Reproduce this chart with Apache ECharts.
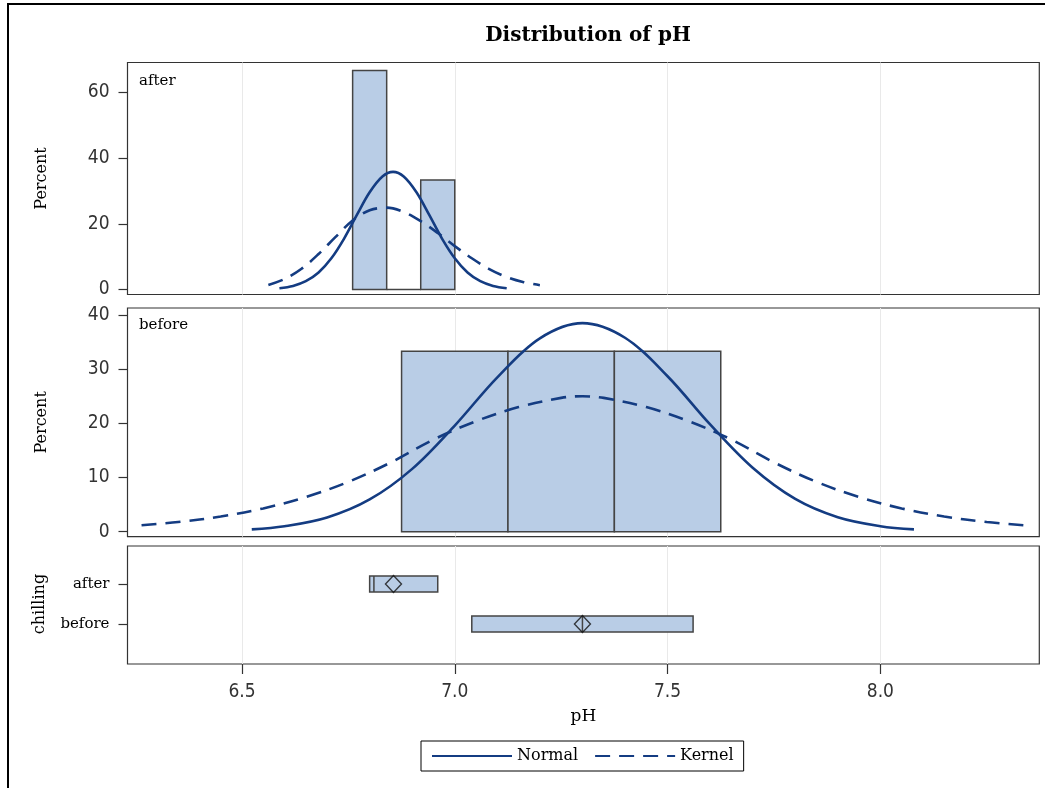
<!DOCTYPE html>
<html><head><meta charset="utf-8">
<script src="https://cdn.jsdelivr.net/npm/echarts@6/dist/echarts.min.js"></script>
<style>html,body{margin:0;padding:0;background:#fff}#c{width:1045px;height:788px}</style>
</head><body><div id="c"></div>
<script>
// ---------- data ----------
const chartTitle = 'Distribution of pH';
const groups = ['after', 'before'];
const xTicks = [6.5, 7.0, 7.5, 8.0];
const afterTicks = [0, 20, 40, 60];
const beforeTicks = [0, 10, 20, 30, 40];
// histogram bins: [lower, upper, percent]
const afterBins = [[6.76, 6.84, 66.67], [6.84, 6.92, 0], [6.92, 7.00, 33.33]];
const beforeBins = [[6.875, 7.125, 33.33], [7.125, 7.375, 33.33], [7.375, 7.625, 33.33]];
// fitted curves [pH, percent]
const afterNormal = [[6.588,0.40],[6.62,1.10],[6.65,2.52],[6.68,5.18],[6.71,9.49],[6.74,15.5],[6.77,22.7],[6.80,29.6],[6.83,34.4],[6.855,35.8],[6.88,34.4],[6.91,29.6],[6.94,22.7],[6.97,15.5],[7.00,9.5],[7.03,5.18],[7.06,2.52],[7.09,1.10],[7.122,0.40]];
const afterKernel = [[6.562,1.4],[6.60,3.2],[6.64,6.3],[6.68,10.8],[6.72,16.0],[6.76,21.0],[6.80,24.1],[6.84,24.9],[6.88,23.6],[6.92,20.8],[6.96,17.2],[7.00,13.2],[7.04,9.5],[7.08,6.3],[7.12,3.9],[7.16,2.3],[7.20,1.3]];
const beforeNormal = [[6.523,0.43],[6.60,1.0],[6.70,2.62],[6.80,5.95],[6.90,11.6],[7.00,19.6],[7.10,28.5],[7.20,35.7],[7.30,38.5],[7.40,35.8],[7.50,28.7],[7.60,19.8],[7.70,11.8],[7.80,6.05],[7.90,2.67],[8.00,1.02],[8.079,0.43]];
const beforeKernel = [[6.264,1.2],[6.35,1.8],[6.45,2.8],[6.55,4.3],[6.65,6.4],[6.75,9.2],[6.85,12.8],[6.95,17.0],[7.05,20.4],[7.15,23.0],[7.25,24.7],[7.30,25.0],[7.35,24.7],[7.45,23.0],[7.55,20.4],[7.65,17.0],[7.75,12.8],[7.85,9.2],[7.95,6.4],[8.05,4.3],[8.15,2.8],[8.25,1.8],[8.336,1.2]];
// box stats [min, Q1, median, Q3, max] per group, and means
const boxStats = [[6.80, 6.80, 6.81, 6.96, 6.96], [7.04, 7.04, 7.30, 7.56, 7.56]];
const groupMeans = [6.856, 7.30];

// ---------- styles ----------
const SERIF = "'DejaVu Serif', 'Liberation Serif', serif";
const NUM = "'Liberation Sans Narrow', 'DejaVu Sans Condensed', 'Liberation Sans', sans-serif";
const FILL = '#b9cde6';
const EDGE = '#444';
const LINE = '#143c82';
const AX = '#333';
const GRIDC = '#e9e9e9';
const X_MIN = 6.231, X_MAX = 8.3735;
const L = 127.5, W = 911.8;

function binRender(params, api) {
  const p0 = api.coord([api.value(0), 0]);
  const p1 = api.coord([api.value(1), api.value(2)]);
  return {
    type: 'rect',
    shape: { x: p0[0], y: p1[1], width: p1[0] - p0[0], height: p0[1] - p1[1] },
    style: { fill: FILL, stroke: EDGE, lineWidth: 1.5 }
  };
}

function xAxisHidden(gi) {
  return {
    type: 'value', gridIndex: gi, min: X_MIN, max: X_MAX,
    axisLine: { show: false }, axisLabel: { show: false, customValues: xTicks },
    axisTick: { show: false, customValues: xTicks },
    splitLine: { show: true, lineStyle: { color: GRIDC, width: 1 } }
  };
}
function yValueAxis(gi, mn, mx, ticks) {
  return {
    type: 'value', gridIndex: gi, min: mn, max: mx,
    name: 'Percent', nameLocation: 'middle', nameGap: 78, nameRotate: 90,
    nameTextStyle: { fontFamily: SERIF, fontSize: 16, color: '#000' },
    axisLine: { show: false },
    axisTick: { show: true, inside: false, length: 9, customValues: ticks, lineStyle: { color: AX, width: 1.2 } },
    axisLabel: { customValues: ticks, margin: 18, fontFamily: NUM, fontSize: 19, color: '#333' },
    splitLine: { show: false }
  };
}
function curve(name, data, xi, yi, dashed) {
  return {
    type: 'line', name: name, xAxisIndex: xi, yAxisIndex: yi, data: data,
    smooth: 0.35, showSymbol: false, symbol: 'none', z: 5,
    lineStyle: { color: LINE, width: 2.6, type: dashed ? [15, 9] : 'solid' },
    itemStyle: { color: LINE }
  };
}

const option = {
  animation: false,
  backgroundColor: '#fff',
  title: {
    text: chartTitle, left: 583, top: 21, textAlign: 'center',
    textStyle: { fontFamily: SERIF, fontWeight: 'bold', fontSize: 20, color: '#000' }
  },
  legend: {
    left: 421, top: 741, orient: 'horizontal',
    padding: [7, 10, 7, 10], itemWidth: 80, itemHeight: 12, itemGap: 16,
    borderColor: '#000', borderWidth: 1,
    itemStyle: { opacity: 0 },
    data: ['Normal', 'Kernel'],
    textStyle: { fontFamily: SERIF, fontSize: 16, color: '#000' }
  },
  graphic: [
    { type: 'rect', silent: true, z: -1, shape: { x: 8, y: 4, width: 1200, height: 900 }, style: { fill: 'none', stroke: '#000', lineWidth: 2 } },
    { type: 'text', left: 139, top: 74, z: 10, style: { text: groups[0], font: "15px 'DejaVu Serif', serif", fill: '#000' } },
    { type: 'text', left: 139, top: 318, z: 10, style: { text: groups[1], font: "15px 'DejaVu Serif', serif", fill: '#000' } }
  ],
  grid: [
    { left: L, width: W, top: 62.5, height: 232, show: true, borderColor: AX, borderWidth: 1.2, backgroundColor: 'transparent' },
    { left: L, width: W, top: 308, height: 228.7, show: true, borderColor: AX, borderWidth: 1.2, backgroundColor: 'transparent' },
    { left: L, width: W, top: 564, height: 80, show: false },
    { left: L, width: W, top: 546, height: 118, show: true, borderColor: AX, borderWidth: 1.2, backgroundColor: 'transparent' }
  ],
  xAxis: [
    xAxisHidden(0),
    xAxisHidden(1),
    { type: 'value', gridIndex: 2, min: X_MIN, max: X_MAX, show: false, splitLine: { show: false } },
    {
      type: 'value', gridIndex: 3, min: X_MIN, max: X_MAX,
      name: 'pH', nameLocation: 'middle', nameGap: 44,
      nameTextStyle: { fontFamily: SERIF, fontSize: 17, color: '#000' },
      axisLine: { show: false },
      axisTick: { show: true, length: 10, customValues: xTicks, lineStyle: { color: AX, width: 1.2 } },
      axisLabel: { customValues: xTicks, margin: 19, fontFamily: NUM, fontSize: 19, color: '#333', formatter: v => Number(v).toFixed(1) },
      splitLine: { show: true, lineStyle: { color: GRIDC, width: 1 } }
    }
  ],
  yAxis: [
    yValueAxis(0, -1.52, 69.07, afterTicks),
    yValueAxis(1, -0.92, 41.29, beforeTicks),
    {
      type: 'category', gridIndex: 2, data: groups, inverse: true,
      name: 'chilling', nameLocation: 'middle', nameGap: 80, nameRotate: 90,
      nameTextStyle: { fontFamily: SERIF, fontSize: 16, color: '#000' },
      axisLine: { show: false },
      axisTick: { show: true, alignWithLabel: true, length: 9, lineStyle: { color: AX, width: 1.2 } },
      axisLabel: { margin: 18, fontFamily: SERIF, fontSize: 15, color: '#000' },
      splitLine: { show: false }
    },
    { type: 'value', gridIndex: 3, show: false, min: 0, max: 1 }
  ],
  series: [
    { type: 'custom', name: 'hist-after', xAxisIndex: 0, yAxisIndex: 0, renderItem: binRender, data: afterBins, encode: { x: [0, 1], y: 2 }, z: 2 },
    { type: 'custom', name: 'hist-before', xAxisIndex: 1, yAxisIndex: 1, renderItem: binRender, data: beforeBins, encode: { x: [0, 1], y: 2 }, z: 2 },
    curve('Normal', afterNormal, 0, 0, false),
    curve('Kernel', afterKernel, 0, 0, true),
    curve('Normal', beforeNormal, 1, 1, false),
    curve('Kernel', beforeKernel, 1, 1, true),
    {
      type: 'boxplot', name: 'box', xAxisIndex: 2, yAxisIndex: 2,
      data: boxStats, boxWidth: [16, 16], z: 3,
      itemStyle: { color: FILL, borderColor: EDGE, borderWidth: 1.5 }
    },
    {
      type: 'scatter', name: 'mean', xAxisIndex: 2, yAxisIndex: 2, z: 4,
      data: groupMeans.map((m, i) => [m, groups[i]]),
      symbol: 'diamond', symbolSize: [16, 17],
      itemStyle: { color: 'rgba(0,0,0,0)', borderColor: '#111', borderWidth: 1.4 }
    }
  ]
};

const chart = echarts.init(document.getElementById('c'), null, { renderer: 'canvas' });
chart.setOption(option);
</script>
</body></html>
